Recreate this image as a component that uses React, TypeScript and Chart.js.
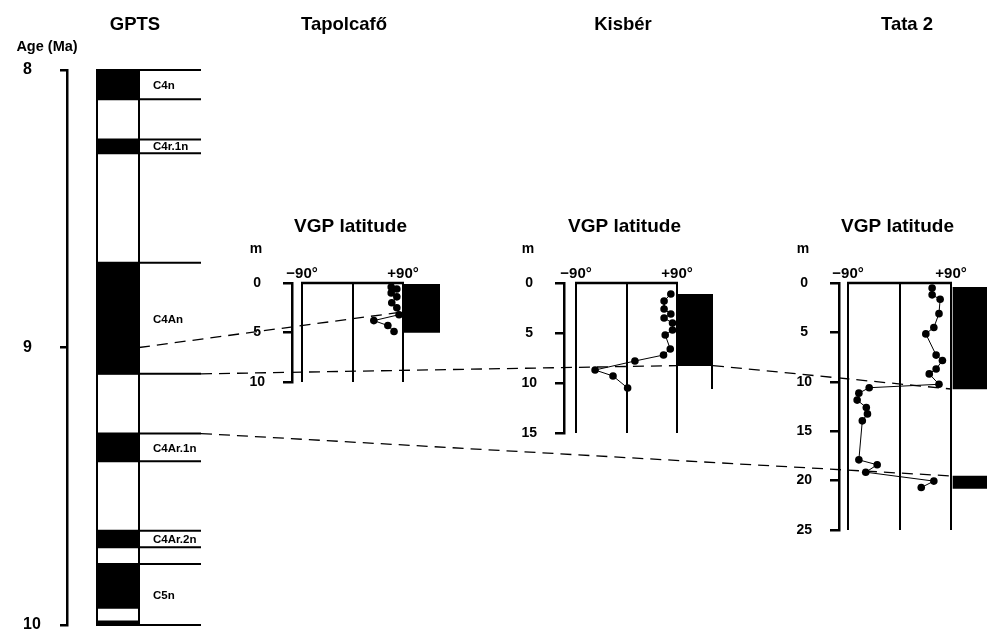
import React, { useEffect, useRef } from 'react';
import { Chart, registerables } from 'chart.js';

Chart.register(...registerables);

const FONT = '"Liberation Sans", Arial, Helvetica, sans-serif';
const W = 987;
const H = 632;

// ---------- GPTS data ----------
const ageTicks = [8, 9, 10];
const chronNames = ['C4n', 'C4r.1n', 'C4An', 'C4Ar.1n', 'C4Ar.2n', 'C5n'];
const chronTops = [8.0, 8.25, 8.695, 9.31, 9.66, 9.78];
const chronBases = [8.105, 8.3, 9.095, 9.41, 9.72, 10.0];
const normalTops = [8.0, 8.25, 8.695, 9.31, 9.66, 9.78, 9.985];
const normalBases = [8.105, 8.3, 9.095, 9.41, 9.72, 9.94, 10.0];

// ---------- Section data ----------
const sectionNames = ['Tapolcafő', 'Kisbér', 'Tata 2'];
const latTicks = [-90, 0, 90];
const latTickLabels = ['−90°', '', '+90°'];

const tapolcafoDepth = [0.4, 0.6, 1.0, 1.4, 2.0, 2.5, 3.2, 3.8, 4.3, 4.9];
const tapolcafoLat = [69, 79, 69, 79, 70, 79, 83, 38, 63, 74];
const tapolcafoNormalTop = [0];
const tapolcafoNormalBase = [5];
const tapolcafoReversedTop: number[] = [];
const tapolcafoReversedBase: number[] = [];

const kisberDepth = [1.1, 1.8, 2.6, 3.1, 3.5, 4.0, 4.7, 5.2, 6.6, 7.2, 7.8, 8.7, 9.3, 10.5];
const kisberLat = [79, 67, 67, 79, 67, 82, 82, 69, 78, 66, 15, -56, -24, 2];
const kisberNormalTop = [1.14];
const kisberNormalBase = [8.26];
const kisberReversedTop = [8.26];
const kisberReversedBase = [10.6];

const tataDepth = [0.5, 1.2, 1.65, 3.1, 4.5, 5.15, 7.3, 7.85, 8.7, 9.2, 10.25, 10.6, 11.15, 11.85, 12.6, 13.25, 13.95, 17.9, 18.4, 19.15, 20.05, 20.7];
const tataLat = [57, 57, 71, 69, 60, 46, 64, 75, 64, 52, 69, -53, -71, -74, -58, -56, -65, -71, -39, -59, 60, 38];
const tataNormalTop = [0.44, 19.53];
const tataNormalBase = [10.73, 20.78];
const tataReversedTop = [10.73];
const tataReversedBase = [19.53];

// ---------- correlation ties ----------
const tieAges = [9.0, 9.095, 9.31];
const tieTapolcafoLat = 80;
const tieTapolcafoDepth = 3.0;
const tieKisberDepth = 8.26;
const tieTataDepths = [10.73, 19.53];

const SECTIONS = [
  { depth: tapolcafoDepth, lat: tapolcafoLat, nTop: tapolcafoNormalTop, nBase: tapolcafoNormalBase, rTop: tapolcafoReversedTop, rBase: tapolcafoReversedBase },
  { depth: kisberDepth, lat: kisberLat, nTop: kisberNormalTop, nBase: kisberNormalBase, rTop: kisberReversedTop, rBase: kisberReversedBase },
  { depth: tataDepth, lat: tataLat, nTop: tataNormalTop, nBase: tataNormalBase, rTop: tataReversedTop, rBase: tataReversedBase },
];

// ---------- layout (pixels) ----------
const GPTS_LAYOUT = { axisX: 67, colL: 97, colR: 139, lineEnd: 201, top: 70, bottom: 625, labelLeft: 23 };
const SECTION_LAYOUT = [
  { axisX: 292, plotL: 302, plotR: 403, boxL: 403, boxR: 440, top: 283, bottom: 382, depthMax: 10, nameX: 344 },
  { axisX: 564, plotL: 576, plotR: 677, boxL: 677, boxR: 713, top: 283, bottom: 433, depthMax: 15, nameX: 623 },
  { axisX: 839, plotL: 848, plotR: 951, boxL: 953, boxR: 1000, top: 283, bottom: 530, depthMax: 25, nameX: 907 },
];
const Y_AXIS_W = 70;
const X_AXIS_H = 24;

function gptsUnits() {
  const L = GPTS_LAYOUT;
  const span = L.lineEnd - L.axisX;
  return {
    colL: (L.colL - L.axisX) / span,
    colR: (L.colR - L.axisX) / span,
    end: 1,
  };
}

function sectionUnits(i: number) {
  const L = SECTION_LAYOUT[i];
  const chartR = Math.min(L.boxR, W);
  const k = 180 / (L.plotR - L.plotL);
  return {
    chartR,
    xMin: -90 - (L.plotL - L.axisX) * k,
    xMax: 90 + (chartR - L.plotR) * k,
    boxC: 90 + ((L.boxL + L.boxR) / 2 - L.plotR) * k,
    boxRv: 90 + (L.boxR - L.plotR) * k,
  };
}

function makeGpts(canvas: HTMLCanvasElement) {
  const L = GPTS_LAYOUT;
  const U = gptsUnits();
  const plugin = {
    id: 'gptsDecor',
    afterDraw(chart: any) {
      const { ctx } = chart;
      const xs = chart.scales.x;
      const ys = chart.scales.y;
      const xl = xs.getPixelForValue(U.colL);
      const xr = xs.getPixelForValue(U.colR);
      const xe = xs.getPixelForValue(U.end);
      ctx.save();
      ctx.strokeStyle = '#000';
      ctx.lineWidth = 2;
      ctx.beginPath();
      ctx.moveTo(xl, ys.getPixelForValue(8));
      ctx.lineTo(xl, ys.getPixelForValue(10));
      ctx.moveTo(xr, ys.getPixelForValue(8));
      ctx.lineTo(xr, ys.getPixelForValue(10));
      ctx.stroke();
      const bounds = Array.from(new Set([...chronTops, ...chronBases]));
      ctx.beginPath();
      bounds.forEach((a) => {
        const y = ys.getPixelForValue(a);
        ctx.moveTo(xl - 1, y);
        ctx.lineTo(xe, y);
      });
      ctx.stroke();
      ctx.fillStyle = '#000';
      ctx.font = `bold 11.5px ${FONT}`;
      ctx.textAlign = 'left';
      ctx.textBaseline = 'middle';
      chronNames.forEach((n, i) => {
        const y = ys.getPixelForValue((chronTops[i] + chronBases[i]) / 2);
        ctx.fillText(n, xr + 14, y + 1);
      });
      ctx.textBaseline = 'alphabetic';
      ctx.textAlign = 'center';
      ctx.font = `bold 18.5px ${FONT}`;
      ctx.fillText('GPTS', 135, 30);
      ctx.font = `bold 14.5px ${FONT}`;
      ctx.fillText('Age (Ma)', 47, 51);
      ctx.restore();
    },
  };
  return new Chart(canvas, {
    type: 'scatter',
    data: {
      datasets: [
        {
          type: 'bar',
          data: normalTops.map((t, i) => ({ x: (U.colL + U.colR) / 2, y: [t, normalBases[i]] })),
          backgroundColor: '#000',
          borderWidth: 0,
          barThickness: L.colR - L.colL,
        } as any,
      ],
    },
    options: {
      responsive: false,
      animation: false,
      events: [],
      layout: { autoPadding: false, padding: { left: L.labelLeft, right: W - L.lineEnd, top: L.top, bottom: H - L.bottom } },
      plugins: { legend: { display: false }, tooltip: { enabled: false } },
      scales: {
        x: { type: 'linear', min: 0, max: 1, display: false, offset: false, grid: { offset: false } },
        y: {
          type: 'linear',
          reverse: true,
          min: 8,
          max: 10,
          beginAtZero: false,
          afterBuildTicks: (s: any) => { s.ticks = ageTicks.map((v) => ({ value: v })); },
          afterFit: (s: any) => { s.width = L.axisX - L.labelLeft; s.paddingTop = 0; s.paddingBottom = 0; },
          ticks: { color: '#000', font: { size: 16, weight: 'bold', family: FONT }, crossAlign: 'far', padding: 0 },
          grid: { color: '#000', lineWidth: 2.5, drawOnChartArea: false, drawTicks: true, tickLength: 7 },
          border: { display: true, color: '#000', width: 2.5 },
        },
      },
    } as any,
    plugins: [plugin],
  });
}

function drawTies(ctx: CanvasRenderingContext2D, charts: any[], tata: any) {
  if (charts.length < 3) return;
  const g = charts[0], tp = charts[1], ks = charts[2];
  const U = gptsUnits();
  const KU = sectionUnits(1);
  const gx = (v: number) => g.scales.x.getPixelForValue(v);
  const gy = (v: number) => g.scales.y.getPixelForValue(v);
  const lines: number[][] = [
    [gx(U.colR), gy(tieAges[0]), tp.scales.x.getPixelForValue(tieTapolcafoLat), tp.scales.y.getPixelForValue(tieTapolcafoDepth)],
    [gx(U.end), gy(tieAges[1]), ks.scales.x.getPixelForValue(90), ks.scales.y.getPixelForValue(tieKisberDepth)],
    [ks.scales.x.getPixelForValue(KU.boxRv), ks.scales.y.getPixelForValue(tieKisberDepth), tata.scales.x.getPixelForValue(90), tata.scales.y.getPixelForValue(tieTataDepths[0])],
    [gx(U.end), gy(tieAges[2]), tata.scales.x.getPixelForValue(90), tata.scales.y.getPixelForValue(tieTataDepths[1])],
  ];
  ctx.save();
  ctx.strokeStyle = '#000';
  ctx.lineWidth = 1.3;
  ctx.setLineDash([11, 7]);
  lines.forEach(([x1, y1, x2, y2]) => {
    ctx.beginPath();
    ctx.moveTo(x1, y1);
    ctx.lineTo(x2, y2);
    ctx.stroke();
  });
  ctx.restore();
}

function makeSection(i: number, canvas: HTMLCanvasElement, charts: any[]) {
  const L = SECTION_LAYOUT[i];
  const U = sectionUnits(i);
  const S = SECTIONS[i];
  const plugin = {
    id: 'secDecor' + i,
    afterDraw(chart: any) {
      const { ctx } = chart;
      const xs = chart.scales.x;
      const ys = chart.scales.y;
      const x0 = xs.getPixelForValue(-90);
      const x1 = xs.getPixelForValue(90);
      const y0 = ys.getPixelForValue(0);
      ctx.save();
      ctx.strokeStyle = '#000';
      ctx.lineWidth = 2.5;
      ctx.beginPath();
      ctx.moveTo(x0 - 1, y0);
      ctx.lineTo(x1 + 1, y0);
      ctx.stroke();
      ctx.lineWidth = 2;
      const xr = xs.getPixelForValue(U.boxRv);
      ctx.beginPath();
      S.rTop.forEach((t, j) => {
        ctx.moveTo(xr - 1, ys.getPixelForValue(t));
        ctx.lineTo(xr - 1, ys.getPixelForValue(S.rBase[j]));
      });
      ctx.stroke();
      ctx.fillStyle = '#000';
      ctx.textAlign = 'center';
      ctx.textBaseline = 'alphabetic';
      ctx.font = `bold 18.5px ${FONT}`;
      ctx.fillText(sectionNames[i], L.nameX, 30);
      ctx.font = `bold 19px ${FONT}`;
      ctx.fillText('VGP latitude', (x0 + x1) / 2 - 2, 232);
      ctx.font = `bold 14px ${FONT}`;
      ctx.fillText('m', chart.chartArea.left - 36, 253);
      ctx.restore();
      if (i === 2) drawTies(ctx, charts, chart);
    },
  };
  return new Chart(canvas, {
    type: 'scatter',
    data: {
      datasets: [
        {
          type: 'scatter',
          data: S.lat.map((v, j) => ({ x: v, y: S.depth[j] })),
          showLine: true,
          borderColor: '#000',
          borderWidth: 1,
          pointRadius: 3.8,
          pointHoverRadius: 3.8,
          pointBackgroundColor: '#000',
          pointBorderWidth: 0,
        },
        {
          type: 'bar',
          data: S.nTop.map((t, j) => ({ x: U.boxC, y: [t, S.nBase[j]] })),
          backgroundColor: '#000',
          borderWidth: 0,
          barThickness: L.boxR - L.boxL,
        } as any,
      ],
    },
    options: {
      responsive: false,
      animation: false,
      events: [],
      layout: { autoPadding: false, padding: { left: L.axisX - Y_AXIS_W, right: W - U.chartR, top: L.top - X_AXIS_H, bottom: H - L.bottom } },
      plugins: { legend: { display: false }, tooltip: { enabled: false } },
      scales: {
        x: {
          type: 'linear',
          position: 'top',
          min: U.xMin,
          max: U.xMax,
          offset: false,
          afterBuildTicks: (s: any) => { s.ticks = latTicks.map((v) => ({ value: v })); },
          afterFit: (s: any) => { s.height = X_AXIS_H; s.paddingLeft = 0; s.paddingRight = 0; },
          ticks: {
            autoSkip: false,
            maxRotation: 0,
            padding: 0,
            color: '#000',
            font: { size: 15, weight: 'bold', family: FONT },
            callback: (v: any) => {
              const idx = latTicks.indexOf(Number(v));
              return idx >= 0 ? latTickLabels[idx] : '';
            },
          },
          grid: { color: '#000', lineWidth: 2, drawTicks: false, drawOnChartArea: true, offset: false },
          border: { display: false },
        },
        y: {
          type: 'linear',
          reverse: true,
          min: 0,
          max: L.depthMax,
          afterFit: (s: any) => { s.width = Y_AXIS_W; s.paddingTop = 0; s.paddingBottom = 0; },
          ticks: { stepSize: 5, color: '#000', font: { size: 14, weight: 'bold', family: FONT }, crossAlign: 'center', padding: 18 },
          grid: { color: '#000', lineWidth: 2.5, drawOnChartArea: false, drawTicks: true, tickLength: 9 },
          border: { display: true, color: '#000', width: 2.5 },
        },
      },
    } as any,
    plugins: [plugin],
  });
}

export default function App() {
  const r0 = useRef<HTMLCanvasElement>(null);
  const r1 = useRef<HTMLCanvasElement>(null);
  const r2 = useRef<HTMLCanvasElement>(null);
  const r3 = useRef<HTMLCanvasElement>(null);
  const refs = [r0, r1, r2, r3];

  useEffect(() => {
    const charts: any[] = [];
    if (r0.current) charts.push(makeGpts(r0.current));
    [r1, r2, r3].forEach((r, i) => {
      if (r.current) charts.push(makeSection(i, r.current, charts));
    });
    return () => {
      charts.forEach((c) => c.destroy());
    };
  }, []);

  return (
    <div style={{ position: 'fixed', left: 0, top: 0, width: W, height: H, background: '#fff', overflow: 'hidden' }}>
      {refs.map((r, i) => (
        <canvas
          key={i}
          ref={r}
          width={W}
          height={H}
          style={{ position: 'absolute', left: 0, top: 0, width: W, height: H }}
        />
      ))}
    </div>
  );
}
